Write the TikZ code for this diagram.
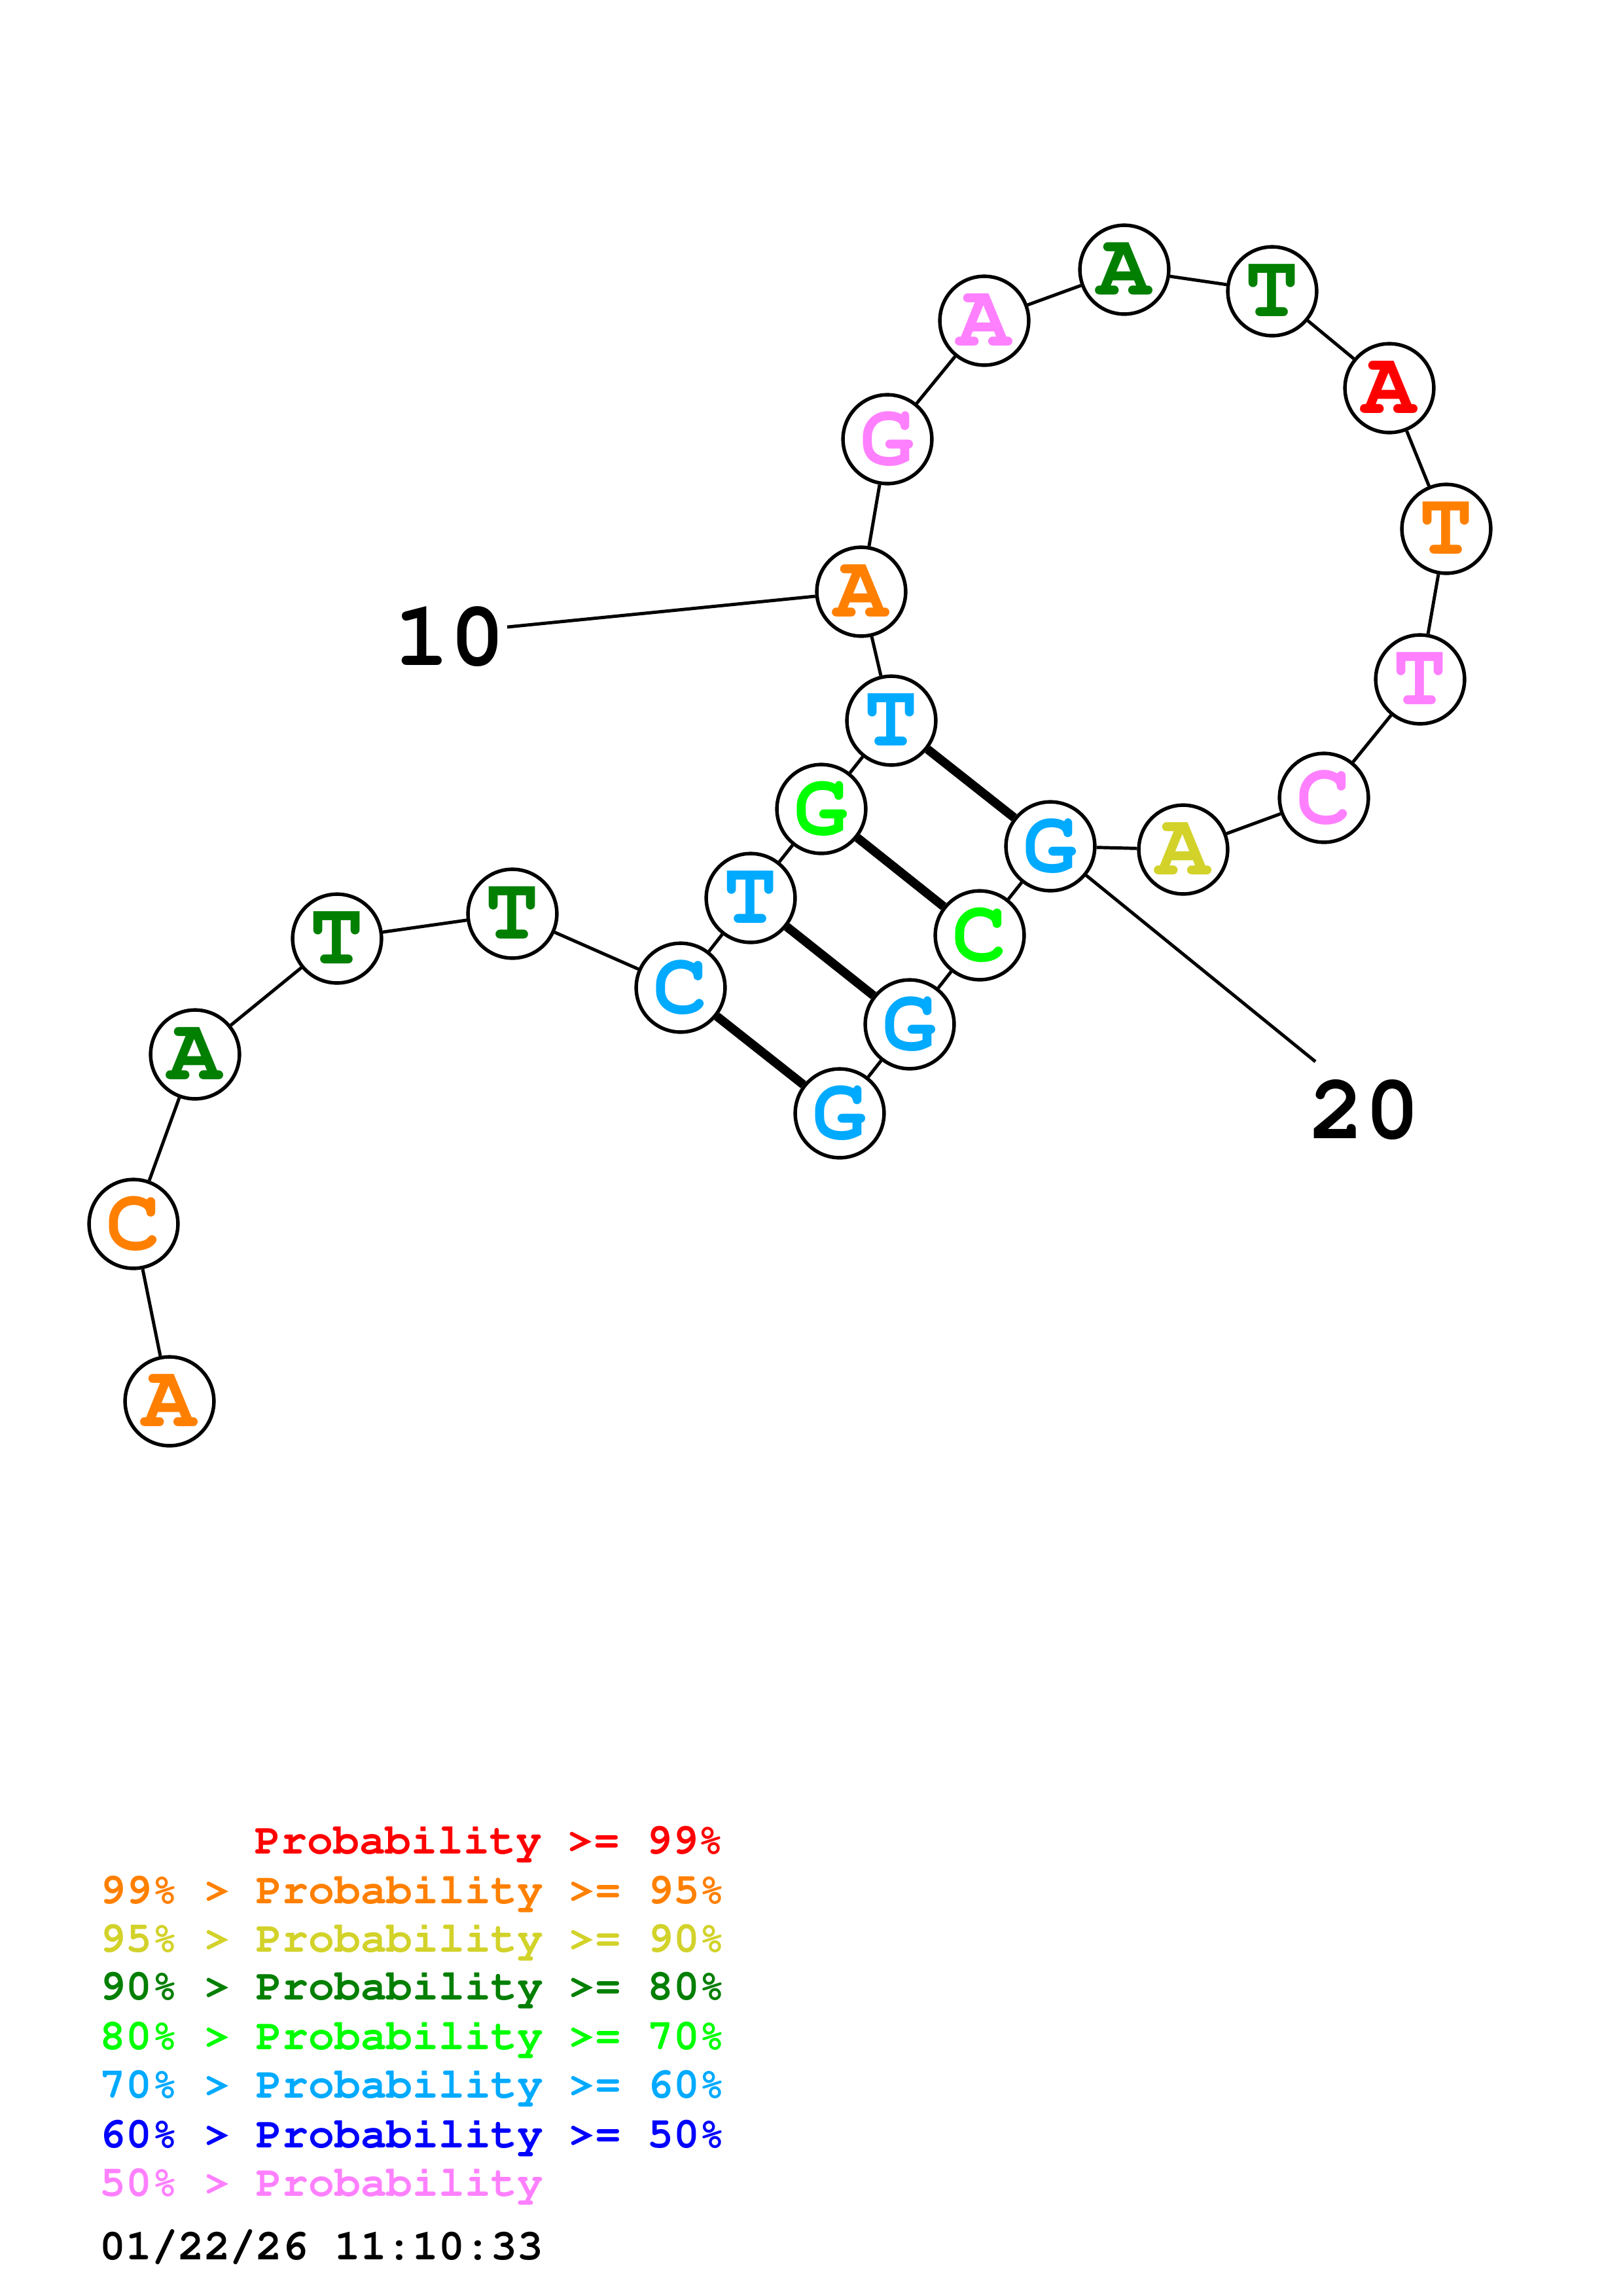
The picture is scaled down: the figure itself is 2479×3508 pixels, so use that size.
\documentclass[tikz,border=0pt]{standalone}
\usepackage[T1]{fontenc}
\usetikzlibrary{positioning}
\newcommand\rnafont{\fontfamily{pcr}\fontseries{b}\selectfont}
\definecolor{pRed}{HTML}{FF0000}
\definecolor{pOrange}{HTML}{FF8000}
\definecolor{pYellow}{HTML}{D2D22A}
\definecolor{pDkGreen}{HTML}{007F00}
\definecolor{pGreen}{HTML}{00FF00}
\definecolor{pCyan}{HTML}{00AAFF}
\definecolor{pBlue}{HTML}{0000FF}
\definecolor{pPink}{HTML}{FF80FF}
\begin{document}
\begin{tikzpicture}[
    x=0.084711mm, y=-0.084711mm,
    base/.style={circle, draw=black, line width=0.46mm, fill=white, minimum size=11.5mm,
                 inner sep=0pt, font=\rnafont\fontsize{33}{33}\selectfont},
    backbone/.style={line width=0.42mm},
    pairline/.style={line width=1.15mm},
    numlabel/.style={inner sep=0pt, font=\rnafont\fontsize{34}{34}\selectfont},
    legend/.style={anchor=west, inner sep=0pt, font=\rnafont\fontsize{16}{16}\selectfont},
]
\fill[white] (0,0) rectangle (2479,3508);
\useasboundingbox (0,0) rectangle (2479,3508);

%% Bases
\foreach \i/\px/\py/\b/\c in {
    1/259/2141/A/pOrange, 2/204/1870/C/pOrange, 3/298/1611/A/pDkGreen,
    4/515/1434/T/pDkGreen, 5/783/1396/T/pDkGreen, 6/1040/1509/C/pCyan,
    7/1147/1372/T/pCyan, 8/1255/1236/G/pGreen, 9/1362/1101/T/pCyan,
    10/1316/904/A/pOrange, 11/1356/671/G/pPink, 12/1504/490/A/pPink,
    13/1718/412/A/pDkGreen, 14/1944/445/T/pDkGreen, 15/2123/593/A/pRed,
    16/2210/808/T/pOrange, 17/2170/1038/T/pPink, 18/2023/1219/C/pPink,
    19/1808/1298/A/pYellow, 20/1605/1293/G/pCyan, 21/1497/1429/C/pGreen,
    22/1390/1565/G/pCyan, 23/1283/1701/G/pCyan}
    \node[base, text=\c] (n\i) at (\px,\py) {\b};

%% Backbone
\foreach \a in {1,...,22} {
    \pgfmathtruncatemacro\b{\a+1}
    \draw[backbone] (n\a) -- (n\b);
}

%% Pairs
\foreach \from/\to in {9/20, 8/21, 7/22, 6/23}
    \draw[pairline] (n\from) -- (n\to);

%% Position labels
\node[numlabel] (l10) at (687,973) {10};
\coordinate (t10) at (775,958);
\draw[backbone] (t10) -- (n10);
\node[numlabel] (l20) at (2085,1696) {20};
\coordinate (t20) at (2010,1622);
\draw[backbone] (n20) -- (t20);

%% Legend
\node[legend, text=pRed]     (k1) at (389,2815) {Probability >= 99\%};
\node[legend, text=pOrange]  (k2) at (152,2891) {99\% > Probability >= 95\%};
\node[legend, text=pYellow]  (k3) at (152,2965) {95\% > Probability >= 90\%};
\node[legend, text=pDkGreen] (k4) at (152,3038) {90\% > Probability >= 80\%};
\node[legend, text=pGreen]   (k5) at (152,3114) {80\% > Probability >= 70\%};
\node[legend, text=pCyan]    (k6) at (152,3188) {70\% > Probability >= 60\%};
\node[legend, text=pBlue]    (k7) at (152,3264) {60\% > Probability >= 50\%};
\node[legend, text=pPink]    (k8) at (152,3338) {50\% > Probability};
\node[legend, text=black]    (dt) at (152,3434) {01/22/26 11:10:33};
\end{tikzpicture}
\end{document}
